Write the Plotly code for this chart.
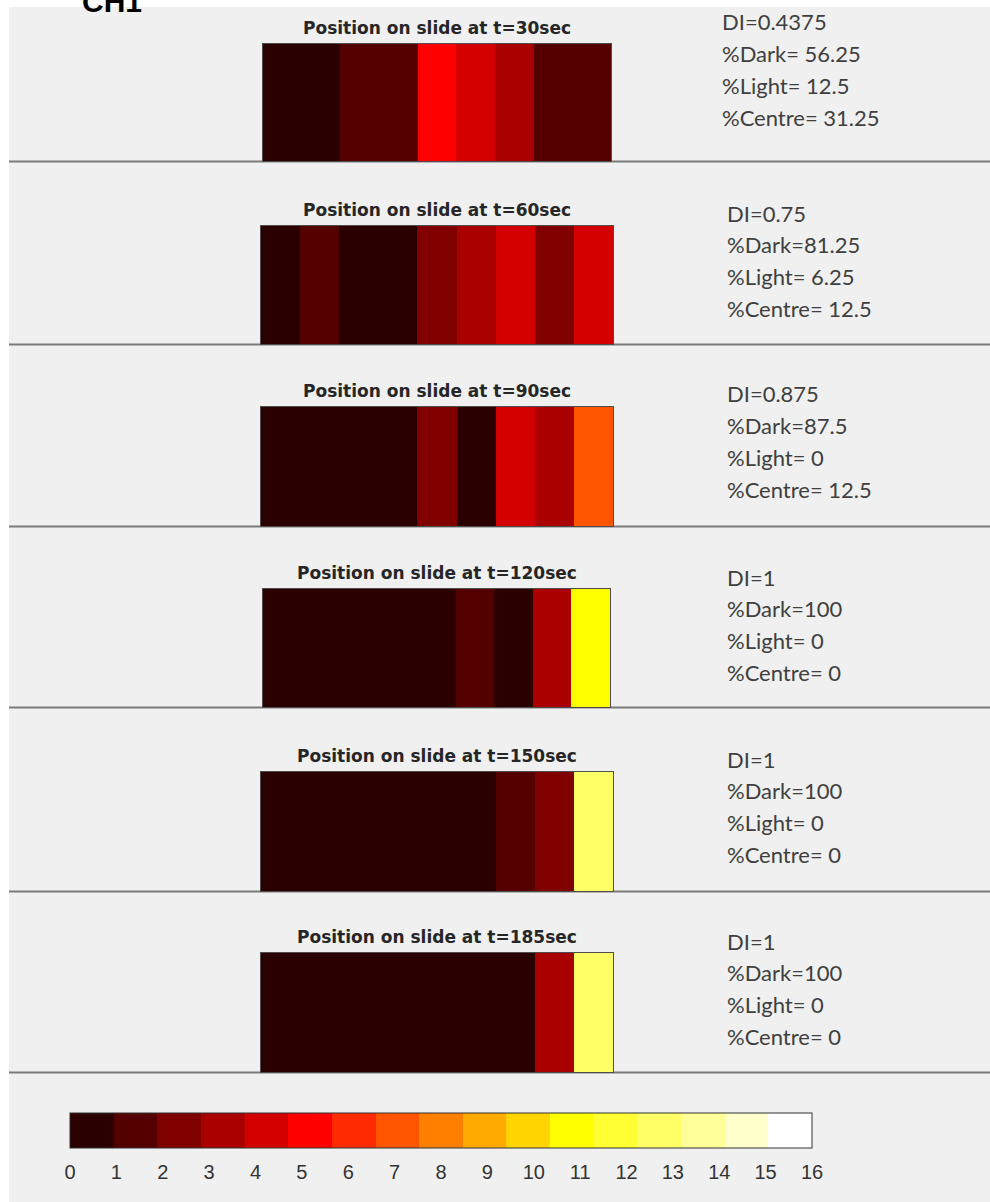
import plotly.graph_objects as go

# Cell values along the slide (9 positions) at each time point
times = [30, 60, 90, 120, 150, 185]
values_t30 = [0, 0, 1, 1, 5, 4, 3, 1, 1]
values_t60 = [0, 1, 0, 0, 2, 3, 4, 2, 4]
values_t90 = [0, 0, 0, 0, 2, 0, 4, 3, 7]
values_t120 = [0, 0, 0, 0, 0, 1, 0, 3, 11]
values_t150 = [0, 0, 0, 0, 0, 0, 1, 2, 13]
values_t185 = [0, 0, 0, 0, 0, 0, 0, 3, 13]
panel_values = [values_t30, values_t60, values_t90, values_t120, values_t150, values_t185]

# Summary statistics printed beside each panel
di_labels = ["DI=0.4375", "DI=0.75", "DI=0.875", "DI=1", "DI=1", "DI=1"]
dark_labels = ["%Dark= 56.25", "%Dark=81.25", "%Dark=87.5", "%Dark=100", "%Dark=100", "%Dark=100"]
light_labels = ["%Light= 12.5", "%Light= 6.25", "%Light= 0", "%Light= 0", "%Light= 0", "%Light= 0"]
centre_labels = ["%Centre= 31.25", "%Centre= 12.5", "%Centre= 12.5", "%Centre= 0", "%Centre= 0", "%Centre= 0"]

# Colour scale ticks
cbar_ticks = list(range(0, 17))

W, H = 990, 1202

def px(x):
    return x / W

def py(y):
    return 1 - y / H

# "hot" colormap with 17 levels
n = 17
n1 = int(3 / 8 * n)
hot = []
for i in range(n):
    r = min(1.0, (i + 1) / n1)
    g = 0.0 if i < n1 else min(1.0, (i + 1 - n1) / n1)
    b = 0.0 if i < 2 * n1 else (i + 1 - 2 * n1) / (n - 2 * n1)
    hot.append("rgb(%d,%d,%d)" % (round(r * 255), round(g * 255), round(b * 255)))
colorscale = []
for i, c in enumerate(hot):
    colorscale.append([i / n, c])
    colorscale.append([(i + 1) / n, c])

# Panel boxes in pixels: left, right, top, bottom
boxes = [
    (263, 611, 44, 161),
    (261, 613, 226, 344),
    (261, 613, 407, 526),
    (263, 610, 589, 707),
    (261, 613, 772, 891),
    (261, 613, 953, 1072),
]
text_x = [722, 727, 727, 727, 727, 727]
text_y0 = [22, 213, 394, 577, 759, 941]

fig = go.Figure()
annotations = []
shapes = [
    dict(type="rect", xref="paper", yref="paper", x0=0, x1=1, y0=py(7), y1=1,
         fillcolor="white", line_width=0, layer="below"),
    dict(type="rect", xref="paper", yref="paper", x0=0, x1=px(9), y0=0, y1=1,
         fillcolor="white", line_width=0, layer="below"),
]

for i, vals in enumerate(panel_values):
    k = "" if i == 0 else str(i + 1)
    fig.add_trace(go.Heatmap(
        z=[vals], x=list(range(len(vals))), y=[0],
        coloraxis="coloraxis", xaxis="x" + k, yaxis="y" + k,
        hoverinfo="skip",
    ))
    l, r, t, b = boxes[i]
    axcommon = dict(showticklabels=False, ticks="", showgrid=False, zeroline=False,
                    showline=True, mirror=True, linecolor="#4d4d4d", linewidth=1,
                    fixedrange=True)
    fig.layout["xaxis" + k] = dict(domain=[px(l), px(r)], range=[-0.5, len(vals) - 0.5],
                                   anchor="y" + k, **axcommon)
    fig.layout["yaxis" + k] = dict(domain=[py(b), py(t)], range=[-0.5, 0.5],
                                   anchor="x" + k, **axcommon)
    annotations.append(dict(
        text="<b>Position on slide at t=%dsec</b>" % times[i],
        xref="paper", yref="paper", x=px((l + r) / 2), y=py(t - 16),
        xanchor="center", yanchor="middle", showarrow=False,
        font=dict(family="DejaVu Sans, sans-serif", size=17, color="#262626"),
    ))
    for j, lab in enumerate([di_labels[i], dark_labels[i], light_labels[i], centre_labels[i]]):
        annotations.append(dict(
            text=lab, xref="paper", yref="paper",
            x=px(text_x[i] - 2), y=py(text_y0[i] + 31.7 * j),
            xanchor="left", yanchor="middle", showarrow=False,
            font=dict(family="Lato, Open Sans, sans-serif", size=22, color="#3f3f3f"),
        ))
    shapes.append(dict(type="line", xref="paper", yref="paper",
                       x0=px(9), x1=1, y0=py(b + 0.5), y1=py(b + 0.5),
                       line=dict(color="#7a7a7a", width=2), layer="below"))

# Partially visible heading at the very top
annotations.append(dict(
    text="<b>CH1</b>", xref="paper", yref="paper", x=px(80), y=py(20),
    xanchor="left", yanchor="bottom", showarrow=False,
    font=dict(family="Liberation Sans, Arial, sans-serif", size=30, color="black"),
))

fig.update_layout(
    width=W, height=H,
    margin=dict(l=0, r=0, t=0, b=0),
    paper_bgcolor="#f0f0f0", plot_bgcolor="#f0f0f0",
    showlegend=False,
    coloraxis=dict(
        colorscale=colorscale, cmin=0, cmax=16,
        colorbar=dict(
            orientation="h", x=px(441), xanchor="center",
            y=py(1113), yanchor="top",
            len=742, lenmode="pixels", thickness=35, thicknessmode="pixels",
            xpad=0, ypad=0,
            outlinecolor="#333333", outlinewidth=1,
            tickvals=cbar_ticks, ticktext=[str(t) for t in cbar_ticks],
            ticks="outside", ticklen=7, tickcolor="rgba(0,0,0,0)",
            tickfont=dict(family="Liberation Sans, Arial, sans-serif", size=20, color="#333333"),
        ),
    ),
    annotations=annotations,
    shapes=shapes,
)

fig.write_html("out.html")
